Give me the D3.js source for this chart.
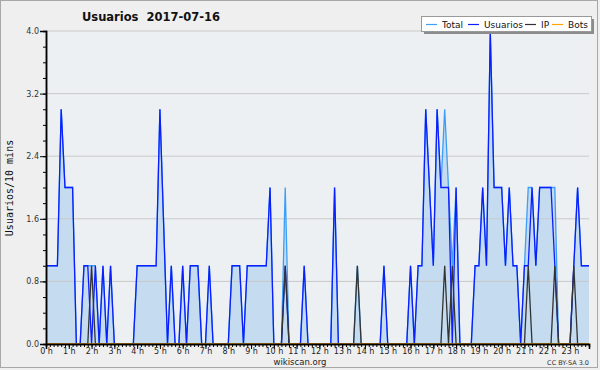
<!DOCTYPE html>
<html lang="es">
<head>
<meta charset="UTF-8">
<title>Usuarios 2017-07-16</title>
<script src="https://cdn.jsdelivr.net/npm/d3@7"></script>
<style>
  body { margin: 0; background: #efefef; }
  svg { display: block; font-family: "DejaVu Sans", sans-serif; }
</style>
</head>
<body>
<svg id="chart" width="600" height="370"></svg>
<script>
// valores cada 10 minutos (144 puntos)
var usuarios = [1,1,1,1,3,2,2,2,0,0, 1,1,0,1,0,1,0,1,0,0, 0,0,0,0,1,1,1,1,1,1,
  3,1.5,0,1,0,0,1,0,1,1, 1,0,0,1,0,0,0,0,0,1, 1,1,0,1,1,1,1,1,1,2,
  0,0,0,1,0,0,0,0,1,0, 0,0,0,0,0,0,2,0,0,0, 0,0,0,0,0,0,0,0,0,1,
  0,0,0,0,0,0,1,0,1,1, 3,2,1,3,2,2,2,0,2,0, 0,0,0,1,1,2,1,4,2,2,
  2,1,2,1,1,0,1,1,2,1, 2,2,2,2,1,0,0,0,0,1, 2,1,1,1]
var total = [1,1,1,1,3,2,2,2,0,0, 1,1,1,1,0,1,0,1,0,0, 0,0,0,0,1,1,1,1,1,1,
  3,1.5,0,1,0,0,1,0,1,1, 1,0,0,1,0,0,0,0,0,1, 1,1,0,1,1,1,1,1,1,2,
  0,0,0,2,0,0,0,0,1,0, 0,0,0,0,0,0,2,0,0,0, 0,0,1,0,0,0,0,0,0,1,
  0,0,0,0,0,0,1,0,1,1, 3,2,1,3,2,3,2,1,2,0, 0,0,0,1,1,2,1,4,2,2,
  2,1,2,1,1,0,1,2,2,1, 2,2,2,2,2,0,0,0,0,1, 2,1,1,1]
var ipIdx = [12, 63, 82, 105, 107, 127, 134, 139]   // puntos donde IP = 1
var ip = usuarios.map(function (d, i) { return ipIdx.indexOf(i) >= 0 ? 1 : 0 })
var bots = usuarios.map(function () { return 0 })
var yTicks = [0, 0.8, 1.6, 2.4, 3.2, 4.0]
var hours = d3.range(0, 24)
var legendItems = [
  {name: 'Total', color: '#3d9ef5'},
  {name: 'Usuarios', color: '#0a1eff'},
  {name: 'IP', color: '#333333'},
  {name: 'Bots', color: '#ffa500'}
]

var svg = d3.select('#chart')
var pL = 46, pR = 589, pT = 31, pB = 344

var x = d3.scaleLinear().domain([0, 1430]).range([pL, pR])
var y = d3.scaleLinear().domain([0, 4]).range([pB, pT])

// marco exterior
svg.append('rect').attr('x', 0.5).attr('y', 0.5).attr('width', 597).attr('height', 367)
  .attr('fill', '#efefef').attr('stroke', '#a8a8a8')

// fondo del area de trazado
svg.append('rect').attr('x', pL).attr('y', pT).attr('width', pR - pL).attr('height', pB - pT)
  .attr('fill', '#edf0f3')

// area de Total
var area = d3.area()
  .x(function (d, i) { return x(i * 10) })
  .y0(y(0))
  .y1(function (d) { return y(d) })
svg.append('path').datum(total).attr('d', area).attr('fill', '#c5dcf0')

// rejilla
svg.append('g').selectAll('line').data(yTicks.slice(1)).join('line')
  .attr('x1', pL).attr('x2', pR)
  .attr('y1', function (d) { return y(d) }).attr('y2', function (d) { return y(d) })
  .attr('stroke', '#c8c8c8').attr('stroke-width', 1)

var line = d3.line()
  .x(function (d, i) { return x(i * 10) })
  .y(function (d) { return y(d) })

var series = [total, usuarios, ip, bots]
series.forEach(function (s, k) {
  svg.append('path').datum(s).attr('d', line)
    .attr('fill', 'none')
    .attr('stroke', legendItems[k].color)
    .attr('stroke-width', 1.3)
})

// ejes
var xMinor = d3.axisBottom(x).tickValues(d3.range(0, 1440, 10)).tickSize(3).tickFormat('')
var xMajor = d3.axisBottom(x).tickValues(hours.map(function (h) { return h * 60 }))
  .tickSize(5).tickPadding(-1).tickFormat(function (d) { return (d / 60) + ' h' })
svg.append('g').attr('transform', 'translate(0,' + pB + ')').call(xMinor)
var gx2 = svg.append('g').attr('transform', 'translate(0,' + pB + ')').call(xMajor)
gx2.selectAll('text').attr('font-size', 8).attr('font-family', '"DejaVu Sans", sans-serif').attr('fill', '#222')

var yMinor = d3.axisLeft(y).tickValues(d3.range(0, 4.01, 0.2)).tickSize(3).tickFormat('')
var yMajor = d3.axisLeft(y).tickValues(yTicks).tickSize(6).tickPadding(1).tickFormat(d3.format('.1f'))
svg.append('g').attr('transform', 'translate(' + pL + ',0)').call(yMinor)
var gy = svg.append('g').attr('transform', 'translate(' + pL + ',0)').call(yMajor)
gy.selectAll('text').attr('font-size', 8).attr('font-family', '"DejaVu Sans", sans-serif').attr('fill', '#333')

svg.selectAll('.domain').attr('stroke', '#000').attr('stroke-width', 1.5)
svg.selectAll('.tick line').attr('stroke', '#000')

// titulo
svg.append('text').attr('x', 151).attr('y', 21).attr('text-anchor', 'middle')
  .attr('font-size', 11.5).attr('font-weight', 'bold').attr('fill', '#111')
  .style('white-space', 'pre').text('Usuarios  2017-07-16')

// etiqueta eje y
svg.append('text').attr('transform', 'translate(13,188) rotate(-90)')
  .attr('text-anchor', 'middle').attr('font-family', '"DejaVu Sans Mono", monospace')
  .attr('font-size', 10).attr('fill', '#111').text('Usuarios/10 mins')

// pie
svg.append('text').attr('x', 300).attr('y', 365).attr('text-anchor', 'middle')
  .attr('font-size', 8.5).attr('fill', '#222').text('wikiscan.org')
svg.append('text').attr('x', 589).attr('y', 365).attr('text-anchor', 'end')
  .attr('font-size', 6.5).attr('fill', '#333').text('CC BY-SA 3.0')

// leyenda
var lg = svg.append('g')
lg.append('rect').attr('x', 424).attr('y', 19).attr('width', 170).attr('height', 15).attr('fill', '#8c8c8c')
lg.append('rect').attr('x', 421.5).attr('y', 16.5).attr('width', 170).attr('height', 15)
  .attr('fill', '#fff').attr('stroke', '#999')
var lx = [426, 468, 525, 552]
legendItems.forEach(function (d, k) {
  lg.append('line').attr('x1', lx[k]).attr('x2', lx[k] + 11).attr('y1', 24.5).attr('y2', 24.5)
    .attr('stroke', d.color).attr('stroke-width', 1.2)
  lg.append('text').attr('x', lx[k] + 16).attr('y', 28).attr('font-size', 9).attr('fill', '#111').text(d.name)
})
</script>
</body>
</html>
